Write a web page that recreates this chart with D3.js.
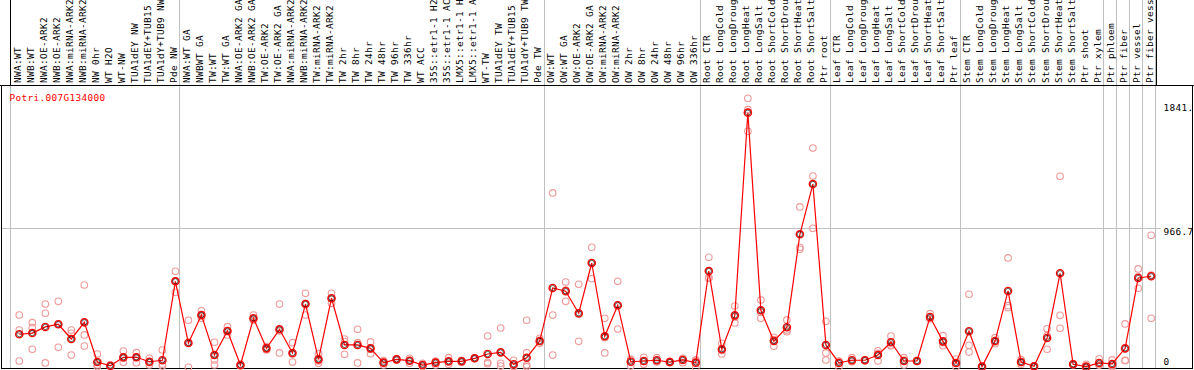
<!DOCTYPE html>
<html>
<head>
<meta charset="utf-8">
<script src="https://cdn.jsdelivr.net/npm/d3@7"></script>
<style>
  html, body { margin: 0; padding: 0; background: #fff; }
  svg { display: block; }
</style>
</head>
<body>
<div id="chart"></div>
<script>
const geneId = 'Potri.007G134000';

const samples = [
  'NWA:WT', 'NWB:WT', 'NWA:OE-ARK2', 'NWB:OE-ARK2', 'NWA:miRNA-ARK2', 'NWB:miRNA-ARK2',
  'NW 0hr', 'WT H2O', 'WT-NW', 'TUA1dEY NW', 'TUA1dEY+TUB15', 'TUA1dY+TUB9 NW', 'Pde NW',
  'NWA:WT GA', 'NWBWT GA', 'TW:WT', 'TW:WT GA', 'NWA:OE-ARK2 GA', 'NWB:OE-ARK2 GA',
  'TW:OE-ARK2', 'TW:OE-ARK2 GA', 'NWA:miRNA-ARK2', 'NWB:miRNA-ARK2', 'TW:miRNA-ARK2',
  'TW:miRNA-ARK2', 'TW 2hr', 'TW 8hr', 'TW 24hr', 'TW 48hr', 'TW 96hr', 'TW 336hr',
  'WT ACC', '35S::etr1-1 H2', '35S::etr1-1 AC', 'LMX5::etr1-1 H', 'LMX5::etr1-1 A',
  'WT-TW', 'TUA1dEY TW', 'TUA1dEY+TUB15', 'TUA1dY+TUB9 TW', 'Pde TW',
  'OW:WT', 'OW:WT GA', 'OW:OE-ARK2', 'OW:OE-ARK2 GA', 'OW:miRNA-ARK2', 'OW:miRNA-ARK2',
  'OW 2hr', 'OW 8hr', 'OW 24hr', 'OW 48hr', 'OW 96hr', 'OW 336hr',
  'Root CTR', 'Root LongCold', 'Root LongDroug', 'Root LongHeat', 'Root LongSalt',
  'Root ShortCold', 'Root ShortDrou', 'Root ShortHeat', 'Root ShortSalt', 'Ptr root',
  'Leaf CTR', 'Leaf LongCold', 'Leaf LongDroug', 'Leaf LongHeat', 'Leaf LongSalt',
  'Leaf ShortCold', 'Leaf ShortDrou', 'Leaf ShortHeat', 'Leaf ShortSalt', 'Ptr leaf',
  'Stem CTR', 'Stem LongCold', 'Stem LongDroug', 'Stem LongHeat', 'Stem LongSalt',
  'Stem ShortCold', 'Stem ShortDrou', 'Stem ShortHeat', 'Stem ShortSalt', 'Ptr shoot',
  'Ptr xylem', 'Ptr phloem', 'Ptr fiber', 'Ptr vessel', 'Ptr fiber vess'
];

const means = [
  254, 262, 303, 321, 222, 334, 67, 42, 99, 99, 69, 79, 610,
  195, 383, 114, 276, 47, 361, 159, 287, 128, 457, 85, 496, 182, 182, 159,
  63, 85, 76, 47, 63, 72, 72, 92, 121, 132, 52, 96, 208, 565,
  543, 395, 733, 240, 449, 69, 74, 79, 67, 81, 63, 679,
  153, 381, 1744, 415, 208, 301, 926, 1264, 182, 61,
  79, 79, 114, 200, 74, 74, 370, 206, 61, 274,
  36, 208, 545, 67, 38, 229, 664, 52, 36, 61, 54, 159, 632, 644
];

const replicates = [
  [383, 282, 74], [332, 298, 153], [457, 395, 61], [475, 166, 321], [282, 260, 114],
  [585, 249, 175], [121, 36, 47], [47, 40, 36], [141, 65, 92], [130, 63, 99],
  [92, 47, 63], [148, 52, 40], [677, 536, 610],
  [348, 32, 200], [412, 361, 376], [200, 81, 47], [305, 249, 276], [52, 40, 47],
  [383, 350, 350], [170, 148, 159], [457, 128, 276], [197, 67, 121], [529, 383, 460],
  [123, 59, 74], [529, 462, 496], [222, 119, 205], [287, 61, 197], [202, 123, 153],
  [76, 47, 65], [80, 88, 87], [92, 59, 77], [59, 36, 47], [74, 47, 67], [96, 52, 68],
  [72, 79, 65], [95, 90, 92], [242, 65, 56], [296, 59, 40], [79, 36, 40],
  [348, 130, 47, 36], [227, 193, 205], [1204, 383, 114],
  [605, 475, 550], [590, 206, 389], [839, 627, 733], [361, 128, 231], [610, 289, 448],
  [83, 40, 85], [99, 52, 71], [96, 67, 74], [72, 63, 67], [87, 63, 92], [79, 29, 81],
  [771, 630, 636],
  [193, 121, 145], [444, 330, 370], [1841, 1764, 1619], [484, 361, 400], [233, 173, 218],
  [350, 271, 282], [1110, 839, 825], [1506, 1318, 966], [341, 128, 81], [74, 36, 72],
  [96, 69, 72], [79, 76, 82], [143, 74, 125], [242, 182, 176], [96, 47, 79], [74, 72, 76],
  [392, 360, 358], [244, 177, 197], [36, 87, 60], [523, 180, 134],
  [36, 36, 36], [231, 190, 203], [767, 446, 432], [52, 83, 66], [38, 36, 40],
  [291, 244, 153], [1316, 381, 294], [52, 47, 57], [52, 30, 25], [89, 47, 47],
  [81, 36, 45], [323, 79, 76], [693, 563, 640], [919, 361, 652]
];

// column index after which a separator is drawn
const groupBreaks = [0, 13, 41, 53, 63, 73, 84, 85, 86, 87, 88];
const tickValues = [1841, 966.7, 0];
const yMax = 1933.4;

const W = 1194, H = 370;
const headerH = 85;

const svg = d3.select('#chart').append('svg')
  .attr('width', W)
  .attr('height', H);

const x = d3.scaleLinear()
  .domain([0, samples.length])
  .range([10.3, 1155.2]);

const y = d3.scaleLinear()
  .domain([0, yMax])
  .range([372, 84.5]);

const font = "'DejaVu Sans Mono', 'Liberation Mono', monospace";

// separators
svg.append('g')
  .attr('shape-rendering', 'crispEdges')
  .selectAll('line')
  .data(groupBreaks)
  .enter().append('line')
  .attr('x1', d => Math.round(x(d)) + 0.5)
  .attr('x2', d => Math.round(x(d)) + 0.5)
  .attr('y1', 0)
  .attr('y2', 368)
  .attr('stroke', '#c0c0c0')
  .attr('stroke-width', 1);

// middle gridline
svg.append('line')
  .attr('shape-rendering', 'crispEdges')
  .attr('x1', 2).attr('x2', 1161)
  .attr('y1', Math.round(y(tickValues[1])) + 0.5)
  .attr('y2', Math.round(y(tickValues[1])) + 0.5)
  .attr('stroke', '#c0c0c0');

// header box + plot frame
const frame = svg.append('g')
  .attr('fill', 'none')
  .attr('stroke', '#000')
  .attr('shape-rendering', 'crispEdges');
frame.append('line')
  .attr('x1', Math.round(x(0)) + 0.5).attr('x2', Math.round(x(0)) + 0.5)
  .attr('y1', 0).attr('y2', headerH);
frame.append('line')
  .attr('x1', 1156.5).attr('x2', 1156.5)
  .attr('y1', 0).attr('y2', headerH);
frame.append('rect')
  .attr('x', 1.5).attr('y', headerH + 0.5)
  .attr('width', 1191).attr('height', 282.5);
frame.append('line')
  .attr('x1', 0).attr('x2', W)
  .attr('y1', headerH + 0.5).attr('y2', headerH + 0.5);

// sample labels
svg.append('g')
  .attr('font-family', font)
  .attr('font-size', 9.4)
  .attr('letter-spacing', 0.35)
  .selectAll('text')
  .data(samples)
  .enter().append('text')
  .attr('transform', (d, i) => `translate(${x(i) + 10.4}, 83) rotate(-90)`)
  .text(d => d);

// gene id
svg.append('text')
  .attr('x', 9.5)
  .attr('y', 101)
  .attr('fill', '#ff0000')
  .attr('font-family', font)
  .attr('font-size', 9.4)
  .attr('letter-spacing', 0.35)
  .text(geneId);

// right tick labels
svg.append('g')
  .attr('font-family', font)
  .attr('font-size', 9.4)
  .attr('letter-spacing', 0.35)
  .selectAll('text')
  .data(tickValues)
  .enter().append('text')
  .attr('x', 1163.5)
  .attr('y', d => Math.min(Math.max(y(d) + 3.4, 107.7), 361) + 3.5)
  .text(d => d === 0 ? '0' : (d === 1841 ? '1841.' : d.toString()));

const px = i => x(i + 0.69);

const plot = svg.append('g');

// replicate points
plot.append('g')
  .attr('fill', 'none')
  .attr('stroke', '#ee9a9a')
  .attr('stroke-width', 1.1)
  .selectAll('g')
  .data(replicates)
  .enter().append('g')
  .selectAll('circle')
  .data((d, i) => d.map(v => ({ i, v })))
  .enter().append('circle')
  .attr('cx', d => px(d.i))
  .attr('cy', d => y(d.v))
  .attr('r', 3.3);

// mean line
const line = d3.line()
  .x((d, i) => px(i))
  .y(d => y(d));

plot.append('path')
  .datum(means)
  .attr('fill', 'none')
  .attr('stroke', '#ff0000')
  .attr('stroke-width', 1.2)
  .attr('d', line);

// mean markers
const m = plot.append('g')
  .attr('fill', 'none')
  .selectAll('g')
  .data(means)
  .enter().append('g')
  .attr('transform', (d, i) => `translate(${px(i)}, ${y(d)})`);

m.append('circle')
  .attr('r', 3.6)
  .attr('stroke', '#ff0000')
  .attr('stroke-width', 1.4);
m.append('circle')
  .attr('r', 2.6)
  .attr('stroke', '#000')
  .attr('stroke-width', 0.6);
</script>
</body>
</html>
